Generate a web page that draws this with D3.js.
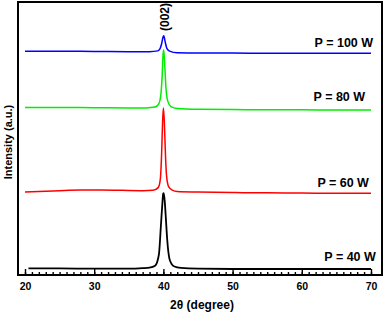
<!DOCTYPE html>
<html>
<head>
<meta charset="utf-8">
<script src="https://cdn.jsdelivr.net/npm/d3@7"></script>
<style>
  body { margin: 0; background: #fff; }
  svg text { font-family: Arial, 'Liberation Sans', sans-serif; font-weight: bold; fill: #000; }
  .axis path.domain { display: none; }
  .axis line { stroke: #000; stroke-width: 1.4; }
</style>
</head>
<body>
<svg id="chart" width="387" height="313"></svg>
<script>
// 2θ (degree), intensity (a.u., arbitrary counts)
const series40 = [
  [20.5, 24], [25, 24], [30, 23], [35, 23], [37, 25], [38, 27], [38.8, 34],
  [39.35, 75], [39.65, 185], [39.85, 262], [39.97, 298], [40.05, 300], [40.2, 268],
  [40.35, 210], [40.55, 130], [40.85, 62], [41.2, 40], [41.6, 31], [42.5, 26],
  [45, 23], [50, 22], [55, 22], [60, 22], [65, 22], [70, 22]
];
const series60 = [
  [20, 304], [22, 306], [25, 309], [28, 311], [31, 311], [34, 310], [37, 309],
  [38.5, 310], [39.25, 320], [39.55, 350], [39.75, 450], [39.88, 560], [40.0, 612],
  [40.13, 565], [40.27, 460], [40.45, 365], [40.75, 324], [41.3, 311], [42, 306],
  [45, 304], [50, 302], [55, 301], [60, 300], [65, 299], [70, 299]
];
const series80 = [
  [20, 614], [25, 614], [30, 613], [35, 612], [37.5, 612], [38.8, 615],
  [39.35, 628], [39.65, 665], [39.83, 735], [39.96, 812], [40.05, 824], [40.18, 775],
  [40.37, 685], [40.65, 635], [41.1, 617], [42, 610], [45, 607], [50, 606],
  [55, 605], [60, 605], [65, 604], [70, 604]
];
const series100 = [
  [20, 820], [25, 820], [30, 819], [35, 818], [38, 818], [39.2, 821], [39.5, 828],
  [39.75, 848], [39.95, 872], [40.05, 876], [40.25, 855], [40.5, 830], [40.9, 820],
  [42, 814], [45, 813], [50, 813], [55, 812], [60, 812], [65, 812], [70, 812]
];

const seriesNames = ['P = 40 W', 'P = 60 W', 'P = 80 W', 'P = 100 W'];
const seriesColors = ['#000000', '#ff0000', '#00ee00', '#0000ff'];
const xTicks = [20, 30, 40, 50, 60, 70];
const peakLabel = '(002)';

function drawChart() {
  const margin = { top: 2, right: 5, bottom: 38, left: 18 };
  const w = 387;
  const h = 313;
  const svg = d3.select('#chart');

  const x = d3.scaleLinear().domain([20, 70]).range([25, 371]);
  const y = d3.scaleLinear().domain([0, 1000]).range([h - margin.bottom, margin.top]);

  // minor ticks every degree, inward
  svg.append('g')
    .attr('class', 'axis')
    .attr('transform', `translate(0,${h - margin.bottom})`)
    .call(d3.axisBottom(x).tickValues(d3.range(20, 71, 1)).tickSize(-3).tickFormat(''));

  // major ticks + labels
  svg.append('g')
    .attr('class', 'axis axis-x')
    .attr('transform', `translate(0,${h - margin.bottom})`)
    .call(d3.axisBottom(x).tickValues(xTicks).tickSizeInner(-6).tickSizeOuter(0).tickPadding(8))
    .selectAll('text')
    .style('font-size', '10.5px');

  const line = d3.line()
    .x(d => x(d[0]))
    .y(d => y(d[1]))
    .curve(d3.curveMonotoneX);

  const allSeries = [series40, series60, series80, series100];
  svg.append('g')
    .selectAll('path')
    .data(allSeries)
    .join('path')
    .attr('fill', 'none')
    .attr('stroke', (d, i) => seriesColors[i])
    .attr('stroke-width', (d, i) => i === 0 ? 1.8 : 1.5)
    .attr('d', line);

  // series labels, right aligned above each trace
  const labelPos = [[70.7, 8], [69.7, 6], [69.15, 9], [70.3, 6]];
  svg.append('g')
    .selectAll('text')
    .data(seriesNames)
    .join('text')
    .attr('text-anchor', 'end')
    .attr('x', (d, i) => x(labelPos[i][0]))
    .attr('y', (d, i) => y(allSeries[i][allSeries[i].length - 1][1]) - labelPos[i][1])
    .style('font-size', '12.5px')
    .text(d => d);

  svg.append('text')
    .attr('transform', `translate(${x(40.2) + 4},17) rotate(-90)`)
    .attr('text-anchor', 'middle')
    .style('font-size', '12px')
    .text(peakLabel);

  // frame
  svg.append('rect')
    .attr('x', margin.left)
    .attr('y', margin.top)
    .attr('width', w - margin.left - margin.right)
    .attr('height', h - margin.top - margin.bottom)
    .attr('fill', 'none')
    .attr('stroke', '#000')
    .attr('stroke-width', 2);

  svg.append('text')
    .attr('x', 202)
    .attr('y', 309)
    .attr('text-anchor', 'middle')
    .style('font-size', '12px')
    .text('2θ (degree)');

  svg.append('text')
    .attr('transform', 'translate(12,142) rotate(-90)')
    .attr('text-anchor', 'middle')
    .style('font-size', '11px')
    .text('Intensity (a.u.)');
}

drawChart();
</script>
</body>
</html>
